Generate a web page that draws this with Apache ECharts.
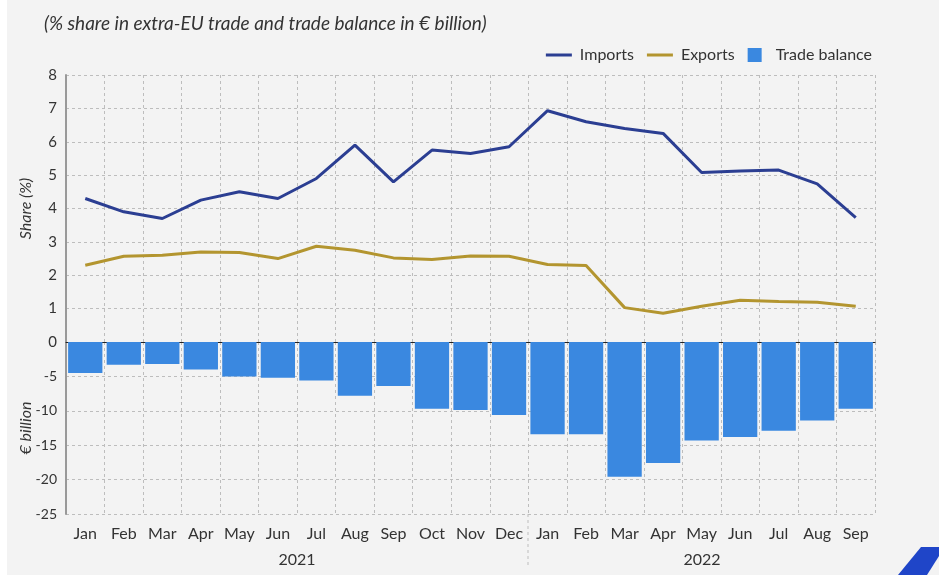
<!DOCTYPE html>
<html>
<head>
<meta charset="utf-8">
<script src="https://cdn.jsdelivr.net/npm/echarts@6/dist/echarts.min.js"></script>
<style>
  html, body { margin: 0; padding: 0; background: #f3f3f3; }
  #chart { width: 939px; height: 575px; }
</style>
</head>
<body>
<div id="chart"></div>
<script>
// months Jan 2021 .. Sep 2022
const months = ["Jan", "Feb", "Mar", "Apr", "May", "Jun", "Jul", "Aug", "Sep", "Oct", "Nov", "Dec",
  "Jan", "Feb", "Mar", "Apr", "May", "Jun", "Jul", "Aug", "Sep"];
const years = ["2021", "2022"];

// share in extra-EU trade (%)
const imports = [4.3, 3.9, 3.7, 4.25, 4.5, 4.3, 4.9, 5.9, 4.8, 5.75, 5.65, 5.85,
  6.93, 6.6, 6.4, 6.25, 5.08, 5.12, 5.15, 4.74, 3.73];
const exports_ = [2.3, 2.57, 2.6, 2.7, 2.68, 2.5, 2.87, 2.75, 2.52, 2.47, 2.58, 2.57,
  2.32, 2.29, 1.03, 0.86, 1.07, 1.25, 1.21, 1.19, 1.07];

// trade balance (EUR billion)
const balance = [-4.5, -3.3, -3.2, -4.0, -5.0, -5.2, -5.6, -7.8, -6.4, -9.7, -9.9, -10.6,
  -13.4, -13.4, -19.6, -17.6, -14.3, -13.8, -12.9, -11.4, -9.7];

const font = "Lato, 'Open Sans', sans-serif";
const txt = "#333";
const gridDash = { color: "#bdbdbd", type: [3, 3], width: 1 };

const chart = echarts.init(document.getElementById("chart"));

const option = {
  backgroundColor: "#f3f3f3",
  textStyle: { fontFamily: font },
  title: {
    text: "(% share in extra-EU trade and trade balance in € billion)",
    left: 39,
    top: 9,
    textStyle: { fontSize: 19, fontStyle: "italic", fontWeight: "normal", color: txt, fontFamily: font }
  },
  legend: {
    right: 62,
    top: 42,
    itemGap: 13,
    itemWidth: 26,
    itemHeight: 14,
    textStyle: { fontSize: 16, color: txt, fontFamily: font, padding: [0, 0, 0, 3] },
    data: [
      { name: "Imports", icon: "path://M0,6 H26 V9 H0 Z" },
      { name: "Exports", icon: "path://M0,6 H26 V9 H0 Z" },
      { name: "Trade balance", icon: "path://M0,0 H14 V14 H0 Z" }
    ]
  },
  grid: [
    { left: 66, right: 64, top: 75, height: 267 },
    { left: 66, right: 64, top: 342, height: 172 }
  ],
  xAxis: [
    {
      type: "category", gridIndex: 0, data: months,
      axisLine: { show: true, lineStyle: { color: "#222", width: 1 } },
      axisTick: { show: false }, axisLabel: { show: false },
      splitLine: { show: true, interval: 0, lineStyle: gridDash }
    },
    {
      type: "category", gridIndex: 1, data: months,
      axisLine: { show: false }, axisTick: { show: false },
      axisLabel: { interval: 0, fontSize: 16, color: txt, margin: 12, fontFamily: font },
      splitLine: { show: true, interval: 0, lineStyle: gridDash }
    }
  ],
  yAxis: [
    {
      type: "value", gridIndex: 0, min: 0, max: 8, interval: 1,
      name: "Share (%)", nameLocation: "middle", nameGap: 32, nameMoveOverlap: false,
      nameTextStyle: { fontSize: 16, fontStyle: "italic", color: txt, fontFamily: font },
      axisLine: { show: true, lineStyle: { color: "#999", width: 2 } },
      axisTick: { show: false },
      axisLabel: { fontSize: 15, color: txt, margin: 9, fontFamily: font },
      splitLine: { show: true, lineStyle: gridDash }
    },
    {
      type: "value", gridIndex: 1, min: -25, max: 0, interval: 5,
      name: "€ billion", nameLocation: "middle", nameGap: 32, nameMoveOverlap: false,
      nameTextStyle: { fontSize: 16, fontStyle: "italic", color: txt, fontFamily: font },
      axisLine: { show: true, lineStyle: { color: "#999", width: 2 } },
      axisTick: { show: false },
      axisLabel: {
        fontSize: 14, color: txt, margin: 9, fontFamily: font,
        formatter: v => (v === 0 ? "" : String(v))
      },
      splitLine: { show: true, lineStyle: gridDash }
    }
  ],
  series: [
    {
      name: "Imports", type: "line", xAxisIndex: 0, yAxisIndex: 0,
      data: imports, symbol: "none", z: 5,
      lineStyle: { color: "#2b3e92", width: 3 }, itemStyle: { color: "#2b3e92" }
    },
    {
      name: "Exports", type: "line", xAxisIndex: 0, yAxisIndex: 0,
      data: exports_, symbol: "none", z: 5,
      lineStyle: { color: "#b3952f", width: 3 }, itemStyle: { color: "#b3952f" }
    },
    {
      name: "Trade balance", type: "bar", xAxisIndex: 1, yAxisIndex: 1,
      data: balance, barWidth: "89%",
      itemStyle: { color: "#3a88e0" }
    }
  ],
  graphic: [
    { type: "rect", left: 0, top: 0, shape: { width: 7, height: 575 }, style: { fill: "#ffffff" }, silent: true },
    { type: "text", x: 297, y: 560, style: { text: years[0], fill: txt, font: "16px " + font, textAlign: "center", textVerticalAlign: "middle" } },
    { type: "text", x: 702, y: 560, style: { text: years[1], fill: txt, font: "16px " + font, textAlign: "center", textVerticalAlign: "middle" } },
    { type: "line", shape: { x1: 528, y1: 514, x2: 528, y2: 566 }, style: { stroke: "#bdbdbd", lineDash: [3, 3], lineWidth: 1 } },
    { type: "polygon", shape: { points: [[898, 575], [921, 547], [939, 547], [939, 556], [927, 575]] }, style: { fill: "#1f45c8" } }
  ]
};

chart.setOption(option);
</script>
</body>
</html>
